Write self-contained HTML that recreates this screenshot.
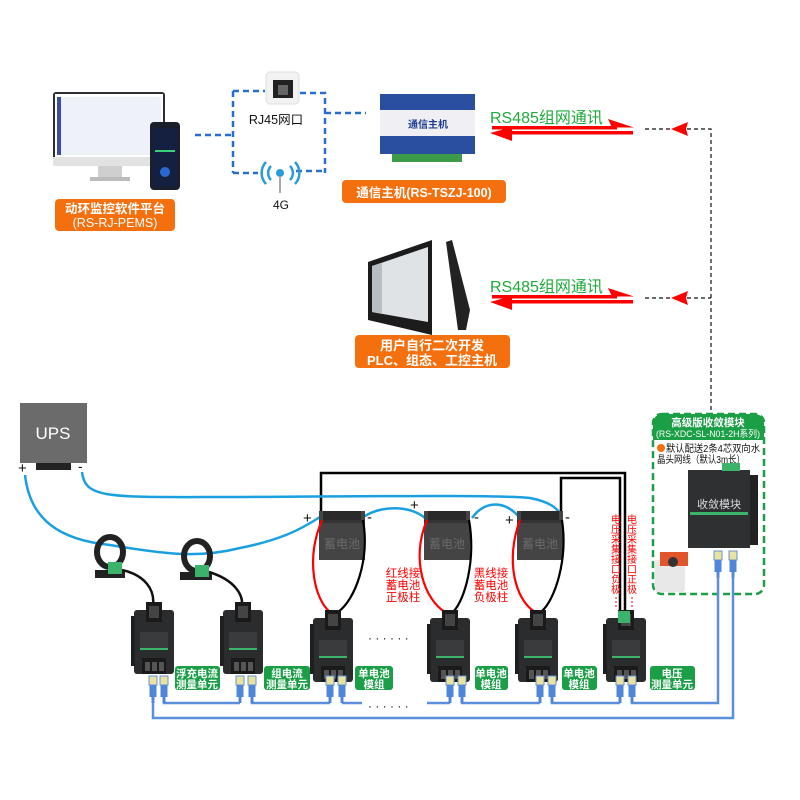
<!DOCTYPE html>
<html><head><meta charset="utf-8"><style>
html,body{margin:0;padding:0;background:#fff}
svg{display:block}
text{font-family:"Liberation Sans","Noto Sans CJK SC",sans-serif}
</style></head><body>
<svg width="800" height="800" viewBox="0 0 800 800" xmlns="http://www.w3.org/2000/svg">
<defs>
<g id="mod">
  <rect x="0" y="8" width="40" height="64" rx="3" fill="#2b2c2e"/>
  <rect x="-3" y="14" width="4" height="50" fill="#1e1f20"/>
  <rect x="12" y="0" width="16" height="20" fill="#1a1a1a"/>
  <rect x="15" y="4" width="10" height="12" fill="#444"/>
  <rect x="6" y="30" width="28" height="16" fill="#393b3d"/>
  <rect x="6" y="46" width="28" height="2" fill="#3bb36b"/>
  <rect x="8" y="56" width="24" height="16" fill="#1a1a1a"/>
  <rect x="11" y="60" width="5" height="9" fill="#555"/><rect x="18" y="60" width="5" height="9" fill="#555"/><rect x="25" y="60" width="5" height="9" fill="#555"/>
</g>
<g id="plug">
  <rect x="-4" y="0" width="8" height="9" fill="#e8e4a0" stroke="#6a8fd8" stroke-width="1"/>
  <rect x="-3.5" y="9" width="7" height="12" fill="#4f86d8"/>
  <rect x="-1.5" y="21" width="3" height="6" fill="#4f86d8"/>
</g>
<g id="bat">
  <rect x="0" y="0" width="46" height="49" fill="#444"/>
  <rect x="4" y="0" width="38" height="12" fill="#2a2a2a"/>
  <rect x="0" y="9" width="46" height="3" fill="#333"/>
</g>
</defs>

<!-- monitor -->
<rect x="53" y="92" width="112" height="72" rx="3" fill="#2b2d33"/>
<rect x="55" y="94" width="108" height="64" fill="#fff"/>
<rect x="57" y="97" width="104" height="58" fill="#eef1f8"/>
<rect x="57" y="97" width="4" height="58" fill="#3a4ea8"/>
<rect x="53" y="157" width="112" height="9" fill="#e2e2e2"/>
<rect x="98" y="166" width="24" height="11" fill="#cfcfcf"/>
<rect x="90" y="177" width="40" height="4" fill="#bbb"/>
<rect x="150" y="122" width="30" height="68" rx="4" fill="#1a1f2e"/>
<rect x="153" y="128" width="24" height="58" rx="2" fill="#152040"/>
<rect x="155" y="150" width="20" height="2" fill="#3bd07a"/>
<circle cx="165" cy="172" r="5" fill="#2a6ad0"/>
<rect x="55" y="199" width="120" height="32" rx="4" fill="#f4700f"/>
<text x="115" y="213" font-size="12.5" fill="#fff" text-anchor="middle" font-weight="bold">动环监控软件平台</text>
<text x="115" y="227" font-size="12.5" fill="#fff" text-anchor="middle">(RS-RJ-PEMS)</text>

<!-- blue dashed network -->
<g stroke="#2a6dd0" stroke-width="2.5" stroke-dasharray="6,4" fill="none">
<path d="M195 135H233M233 91V173M233 91H265M300 93H325V173M233 173H258M296 171H325M325 113H366"/>
</g>
<rect x="266" y="72" width="33" height="32" rx="4" fill="#f2f2f2" stroke="#ddd"/>
<rect x="273" y="80" width="20" height="18" fill="#222"/>
<rect x="278" y="85" width="10" height="10" fill="#666"/>
<text x="276" y="124" font-size="12.5" fill="#111" text-anchor="middle">RJ45网口</text>
<g fill="none" stroke="#2a9ad8" stroke-width="2.5">
<path d="M266 162a16 16 0 0 0 0 22"/><path d="M295 162a16 16 0 0 1 0 22"/>
<path d="M271 166a10 10 0 0 0 0 14"/><path d="M290 166a10 10 0 0 1 0 14"/>
</g>
<circle cx="280" cy="173" r="4" fill="#2a9ad8"/>
<rect x="279" y="176" width="2" height="17" fill="#aaa"/>
<text x="281" y="209" font-size="12" fill="#111" text-anchor="middle">4G</text>

<!-- host -->
<rect x="380" y="94" width="95" height="60" fill="#f0f0f4"/>
<rect x="380" y="94" width="95" height="16" fill="#2a4fa0"/>
<rect x="380" y="136" width="95" height="18" fill="#2a4fa0"/>
<rect x="392" y="154" width="70" height="8" fill="#3b9b4a"/>
<text x="428" y="128" font-size="10" fill="#1c3b8f" font-weight="bold" text-anchor="middle">通信主机</text>
<rect x="342" y="180" width="164" height="23" rx="4" fill="#f4700f"/>
<text x="424" y="197" font-size="12.5" fill="#fff" text-anchor="middle" font-weight="bold">通信主机(RS-TSZJ-100)</text>

<!-- panel -->
<polygon points="368,262 432,240 432,335 368,320" fill="#1c1c1c"/>
<polygon points="372,266 428,247 428,322 372,312" fill="#dfe3e6"/>
<polygon points="372,266 382,263 382,314 372,312" fill="#b8bfc4"/>
<polygon points="446,242 452,240 470,310 466,330 458,330" fill="#222"/>
<rect x="355" y="335" width="155" height="33" rx="4" fill="#f4700f"/>
<text x="432" y="350" font-size="13" fill="#fff" text-anchor="middle" font-weight="bold">用户自行二次开发</text>
<text x="432" y="365" font-size="13" fill="#fff" text-anchor="middle" font-weight="bold">PLC、组态、工控主机</text>

<!-- RS485 arrows -->
<g>
<text x="490" y="123" font-size="16" fill="#1faa3a">RS485组网通讯</text>
<rect x="492" y="126" width="125" height="3.5" fill="#f00"/><polygon points="634,127.5 608,119 612,127.5" fill="#f00"/>
<rect x="505" y="131" width="128" height="3.5" fill="#f00"/><polygon points="490,133 512,127 512,141" fill="#f00"/>
<text x="490" y="292" font-size="16" fill="#1faa3a">RS485组网通讯</text>
<rect x="492" y="295" width="125" height="3.5" fill="#f00"/><polygon points="634,296.5 608,288 612,296.5" fill="#f00"/>
<rect x="505" y="300" width="128" height="3.5" fill="#f00"/><polygon points="490,302 512,296 512,310" fill="#f00"/>
</g>
<g stroke="#111" stroke-width="1.2" stroke-dasharray="4,3" fill="none">
<path d="M645 129H711V410M645 298H711"/>
</g>
<polygon points="671,129 688,122 686,129 688,136" fill="#f00"/>
<polygon points="671,298 688,291 686,298 688,305" fill="#f00"/>

<!-- convergence module box -->
<rect x="653" y="414" width="111" height="180" rx="9" fill="none" stroke="#1a9e46" stroke-width="2.5" stroke-dasharray="7,4"/>
<path d="M653 440V423a9 9 0 0 1 9-9h93a9 9 0 0 1 9 9V440Z" fill="#1a9e46"/>
<text x="708" y="426" font-size="10.5" fill="#fff" text-anchor="middle" font-weight="bold">高级版收敛模块</text>
<text x="656" y="437" font-size="9.5" fill="#fff" textLength="104" lengthAdjust="spacingAndGlyphs">(RS-XDC-SL-N01-2H系列)</text>
<circle cx="661" cy="448" r="4" fill="#f4700f"/>
<text x="666" y="452" font-size="10" fill="#111" textLength="94" lengthAdjust="spacingAndGlyphs">默认配送2条4芯双向水</text>
<text x="657" y="463" font-size="10" fill="#111" textLength="88" lengthAdjust="spacingAndGlyphs">晶头网线（默认3m长）</text>
<rect x="688" y="470" width="62" height="78" fill="#2e3032"/>
<rect x="750" y="475" width="8" height="70" fill="#222"/>
<rect x="722" y="463" width="18" height="8" fill="#3bb36b"/>
<text x="719" y="508" font-size="11" fill="#ddd" text-anchor="middle">收敛模块</text>
<rect x="690" y="512" width="58" height="3" fill="#3bb36b"/>
<rect x="655" y="560" width="30" height="32" rx="3" fill="#e8e8e8"/>
<rect x="660" y="552" width="28" height="14" fill="#e2552a"/>
<circle cx="673" cy="562" r="5" fill="#333"/>
<use href="#plug" x="718" y="551"/><use href="#plug" x="733" y="551"/>

<!-- UPS -->
<rect x="20" y="403" width="67" height="60" fill="#6b6b6b"/>
<text x="53" y="439" font-size="17" fill="#fff" text-anchor="middle">UPS</text>
<rect x="36" y="463" width="35" height="7" fill="#222"/>
<text x="18" y="473" font-size="15" fill="#111">+</text>
<text x="78" y="471" font-size="14" fill="#111">-</text>

<!-- black loop -->
<g stroke="#000" stroke-width="2.5" fill="none">
<path d="M321 517V473H625V612"/>
<path d="M561 517V478H620V612"/>
</g>

<!-- blue cables -->
<g stroke="#1aa0e0" stroke-width="2.5" fill="none">
<path d="M25 475C30 520 60 540 110 545C170 555 200 558 240 548C280 540 300 530 320 517"/>
<path d="M82 472C85 500 110 497 240 497C400 496 500 495 530 498C550 502 558 508 562 517"/>
<path d="M362 518C380 505 410 505 425 518"/>
<path d="M472 518C485 500 505 500 520 518"/>
</g>

<!-- clamps -->
<g>
<ellipse cx="110" cy="552" rx="13" ry="15" fill="none" stroke="#222" stroke-width="6"/>
<rect x="95" y="570" width="30" height="8" fill="#222"/>
<rect x="108" y="562" width="14" height="12" fill="#3bb36b"/>
<ellipse cx="197" cy="556" rx="13" ry="15" fill="none" stroke="#222" stroke-width="6"/>
<rect x="180" y="572" width="32" height="8" fill="#222"/>
<rect x="195" y="565" width="14" height="12" fill="#3bb36b"/>
<path d="M122 570C145 575 155 590 153 605" stroke="#111" stroke-width="2.5" fill="none"/>
<path d="M209 572C235 580 243 595 242 605" stroke="#111" stroke-width="2.5" fill="none"/>
</g>

<!-- batteries -->
<use href="#bat" x="319" y="511"/><use href="#bat" x="424" y="511"/><use href="#bat" x="517" y="511"/>
<g font-size="12" fill="#6a6a6a" text-anchor="middle">
<text x="342" y="548">蓄电池</text><text x="447" y="548">蓄电池</text><text x="540" y="548">蓄电池</text>
</g>
<g font-size="15" fill="#111">
<text x="303" y="523">+</text><text x="367" y="522">-</text>
<text x="410" y="510">+</text><text x="474" y="522">-</text>
<text x="505" y="525">+</text><text x="565" y="522">-</text>
</g>

<!-- red/black wires -->
<g fill="none" stroke-width="2.2">
<path d="M322 520C305 560 315 600 330 612" stroke="#f00"/>
<path d="M363 520C370 560 355 600 338 612" stroke="#000"/>
<path d="M427 520C410 560 425 600 445 612" stroke="#f00"/>
<path d="M469 520C476 560 465 600 453 612" stroke="#000"/>
<path d="M520 520C505 560 515 600 535 612" stroke="#f00"/>
<path d="M562 520C568 560 555 600 541 612" stroke="#000"/>
</g>
<g font-size="11.5" fill="#f00" text-anchor="middle">
<text x="403" y="577">红线接</text><text x="403" y="589">蓄电池</text><text x="403" y="601">正极柱</text>
<text x="491" y="577">黑线接</text><text x="491" y="589">蓄电池</text><text x="491" y="601">负极柱</text>
</g>
<g font-size="10" fill="#f00" text-anchor="middle">
<text x="616" y="523">电</text><text x="616" y="533">压</text><text x="616" y="543">采</text><text x="616" y="553">集</text><text x="616" y="563">接</text><text x="616" y="573">口</text><text x="616" y="583">负</text><text x="616" y="593">极</text>
<text x="632" y="523">电</text><text x="632" y="533">压</text><text x="632" y="543">采</text><text x="632" y="553">集</text><text x="632" y="563">接</text><text x="632" y="573">口</text><text x="632" y="583">正</text><text x="632" y="593">极</text>
</g>
<g stroke="#f00" stroke-width="1" stroke-dasharray="2,2"><path d="M616 597V608M632 597V608"/></g>

<!-- modules -->
<use href="#mod" x="134" y="602"/>
<use href="#mod" x="223" y="602"/>
<use href="#mod" x="313" y="610"/>
<use href="#mod" x="430" y="610"/>
<use href="#mod" x="518" y="610"/>
<use href="#mod" x="606" y="610"/>
<rect x="618" y="611" width="12" height="12" fill="#3bb36b"/>
<g font-size="12" fill="#111"><text x="368" y="642">· · · · · ·</text><text x="368" y="710">· · · · · ·</text></g>

<!-- labels -->
<g fill="#1a9e46">
<rect x="175" y="666" width="45" height="24" rx="3"/>
<rect x="264" y="666" width="46" height="24" rx="3"/>
<rect x="355" y="666" width="38" height="24" rx="3"/>
<rect x="475" y="666" width="33" height="24" rx="3"/>
<rect x="562" y="666" width="35" height="24" rx="3"/>
<rect x="650" y="666" width="45" height="24" rx="3"/>
</g>
<g font-size="10.5" fill="#fff" text-anchor="middle" font-weight="bold">
<text x="197" y="677">浮充电流</text><text x="197" y="688">测量单元</text>
<text x="287" y="677">组电流</text><text x="287" y="688">测量单元</text>
<text x="374" y="677">单电池</text><text x="374" y="688">模组</text>
<text x="491" y="677">单电池</text><text x="491" y="688">模组</text>
<text x="579" y="677">单电池</text><text x="579" y="688">模组</text>
<text x="672" y="677">电压</text><text x="672" y="688">测量单元</text>
</g>

<!-- bus -->
<g stroke="#5b8fdc" stroke-width="2.5" fill="none">
<path d="M164 700V703H240M252 700V703H330M342 703V700M342 703H362M427 703H450M462 700V703H540M552 700V703H620M632 700V703H718V575"/>
<path d="M153 700V718H733V575"/>
<path d="M240 700V703M330 700V703M450 700V703M540 700V703M620 700V703"/>
</g>
<use href="#plug" x="153" y="676"/><use href="#plug" x="164" y="676"/>
<use href="#plug" x="240" y="676"/><use href="#plug" x="252" y="676"/>
<use href="#plug" x="330" y="676"/><use href="#plug" x="342" y="676"/>
<use href="#plug" x="450" y="676"/><use href="#plug" x="462" y="676"/>
<use href="#plug" x="540" y="676"/><use href="#plug" x="552" y="676"/>
<use href="#plug" x="620" y="676"/><use href="#plug" x="632" y="676"/>
</svg>
</body></html>
